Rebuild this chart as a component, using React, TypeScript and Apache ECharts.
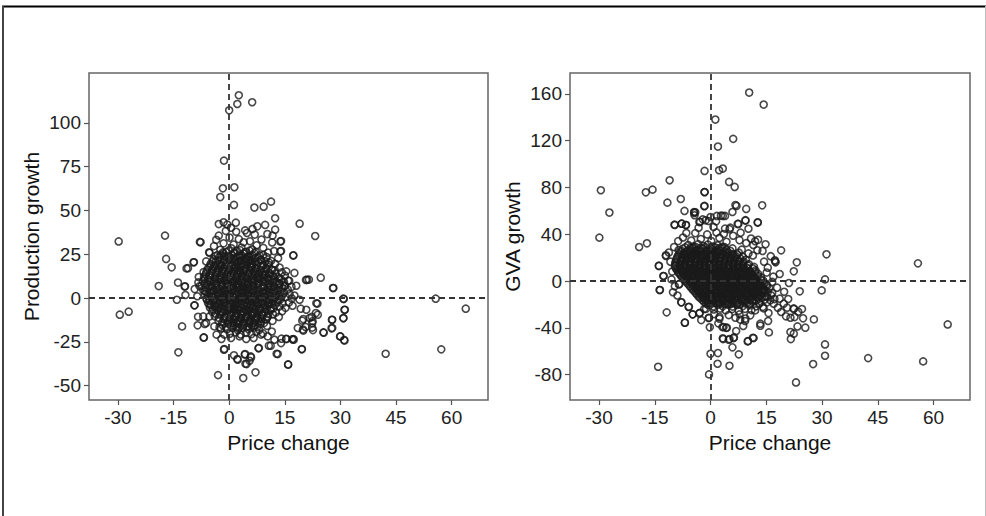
import React, { useEffect, useRef } from "react";
import * as echarts from "echarts";

const xTicks = [-30, -15, 0, 15, 30, 45, 60];
const prodTicks = [-50, -25, 0, 25, 50, 75, 100];
const gvaTicks = [-80, -40, 0, 40, 80, 120, 160];

const xName = "Price change";
const prodName = "Production growth";
const gvaName = "GVA growth";

// Left panel: price change vs production growth
const prodOutliers = [
  [2.6, 115.7], [2.2, 110.7], [6.2, 111.7], [0, 107.1], [-1.4, 78.4], [-1.7, 62.6], [1.4, 63.2], [-2.4, 57.6],
  [1.3, 53.1], [6.8, 51.6], [9.3, 52.1], [11.3, 55.0], [12.4, 45.5], [19.0, 42.4], [23.2, 35.4], [-17.3, 35.6],
  [-29.8, 32.3], [-7.9, 32.0], [-17.0, 22.3], [-15.5, 17.5], [-11.5, 16.9], [-11.1, 17.0], [-9.6, 20.4], [-19.0, 6.8],
  [-13.8, 8.8], [-12.0, 6.5], [-11.8, 1.7], [-14.1, -1.0], [-29.5, -9.5], [-27.1, -7.8], [-12.7, -16.2], [-13.7, -31.0],
  [-9.4, -4.2], [-8.5, -15.6], [-6.9, -22.6], [-6.6, -14.8], [-3.0, -44.0], [-1.3, -29.1], [3.8, -45.7], [4.4, -37.5],
  [4.2, -32.3], [5.8, -33.3], [5.5, -35.8], [7.1, -42.4], [7.9, -28.7], [2.2, -34.8], [10.7, -27.2], [12.8, -31.8],
  [15.9, -37.9], [19.6, -29.1], [17.4, -23.8], [14.1, -23.2], [15.4, -23.3], [20.7, 10.3], [24.7, 11.6], [28.0, 5.7],
  [17.3, 24.2], [13.8, 32.3], [14.0, 26.8], [30.8, -0.4], [31.2, -6.7], [30.8, -11.6], [27.8, -12.4], [27.6, -17.3],
  [29.9, -21.9], [31.0, -24.0], [25.5, -19.8], [22.3, -10.8], [22.5, -13.2], [20.0, -12.0], [22.4, -16.9], [19.9, -18.0],
  [20.6, -16.5], [23.5, -3.0], [23.9, -9.5], [19.3, -6.1], [42.2, -31.8], [55.7, -0.4], [57.2, -29.3], [63.8, -6.1],
];

const prodPeriph = [
  [-2.8, 42.2], [-1.5, 43.2], [-0.5, 41.9], [0.5, 40.1], [1.8, 43.0], [4.3, 38.6], [6.3, 39.4], [7.6, 40.9],
  [9.7, 41.7], [12.4, 39.0], [11.7, 35.6], [14.0, 32.5], [13.8, 26.6], [17.3, 24.4], [-7.7, 31.8], [-5.4, 26.1],
  [-6.2, 20.9], [-6.9, 14.8], [-9.5, 20.4], [-8.3, 8.9], [-9.3, 5.1], [-8.6, 1.0], [-9.3, -4.2], [-8.4, -10.7],
  [-7.0, -10.5], [-6.8, -22.5], [-2.6, -16.7], [-1.4, -29.5], [1.3, -32.7], [2.3, -35.2], [4.3, -32.0], [4.7, -37.7],
  [5.9, -33.9], [8.0, -28.5], [11.2, -27.2], [13.1, -32.0], [14.0, -25.7], [15.9, -38.0], [17.3, -23.4], [19.6, -29.3],
  [18.5, -17.1], [20.0, -18.6], [19.7, -12.9], [21.7, -11.4], [22.4, -14.3], [22.6, -18.3], [20.8, -6.7], [23.8, -3.2],
  [23.4, -8.6], [21.5, 10.5], [21.0, 10.4], [28.1, 5.7], [27.8, -17.1], [25.4, -19.6], [27.7, -12.4], [30.9, -0.6],
  [31.1, -6.7], [30.8, -11.4], [30.0, -21.9], [31.1, -24.2], [18.1, 7.0], [19.0, -1.0], [17.6, 14.3], [15.4, 15.2],
  [15.9, 9.9], [2.8, -21.9], [4.6, -23.4], [6.6, -22.8], [8.6, -20.9], [10.4, -21.9], [12.2, -23.8], [15.4, -23.4],
  [17.0, -23.6], [0.5, -22.8], [-2.1, -23.4], [-11.9, 6.7], [-6.6, 3.8], [-6.0, -1.0], [-8.0, 6.7], [-8.2, 12.0],
  [-5.3, -3.8], [-5.3, -10.5], [-6.2, -14.3], [-4.0, -16.2], [-3.4, -20.9],
];

const prodCore = [
  [-2.4, 27.5], [-0.8, 26.2], [0.6, 28.4], [2.1, 26.9], [3.3, 28.8], [4.6, 26.4], [6.2, 27.7], [1.2, 30.5],
  [3.9, 31.8], [-1.5, 31.2], [5.6, 32.4], [7.4, 30.1], [2.6, 33.6], [0.1, 34.5], [-2.8, 35.6], [6.9, 36.2],
  [8.7, 33.4], [4.8, 37.1], [1.9, 37.8], [-0.9, 38.3], [10.3, 36.5], [11.6, 31.7], [9.2, 28.6], [-4.1, 29.6], [-3.5, 33.2],
  [-3.1, 24.6], [-1.6, 25.4], [-0.2, 24.1], [1.2, 25.7], [2.7, 24.3], [4.1, 25.2], [5.3, 23.8], [6.8, 25.6],
  [8.2, 24.4], [10.5, 25.9], [12.1, 26.8], [-5.3, 25.8],
  [-4.2, 22.1], [-2.7, 23.3], [-1.3, 21.8], [0.3, 22.9], [1.6, 21.6], [3.0, 23.1], [4.4, 22.2], [5.9, 21.3],
  [7.1, 22.8], [8.6, 21.9], [10.1, 23.4], [11.3, 21.2], [13.2, 22.7],
  [-5.0, 19.6], [-3.6, 20.8], [-2.1, 19.2], [-0.7, 20.4], [0.8, 19.1], [2.3, 20.6], [3.6, 19.4], [5.1, 20.9],
  [6.4, 19.3], [7.8, 20.5], [9.3, 19.0], [10.7, 20.3], [12.4, 19.5],
  [-5.6, 17.2], [-4.1, 18.1], [-2.8, 16.8], [-1.2, 17.9], [0.1, 16.6], [1.5, 18.0], [2.9, 17.1], [4.3, 16.4],
  [5.7, 17.8], [7.2, 16.9], [8.5, 18.2], [9.9, 17.0], [11.4, 16.3], [13.6, 17.4],
  [-6.2, 14.6], [-4.6, 15.5], [-3.3, 14.2], [-1.9, 15.6], [-0.4, 14.4], [1.0, 15.3], [2.4, 14.1], [3.8, 15.7],
  [5.2, 14.5], [6.6, 15.4], [8.0, 14.0], [9.4, 15.2], [10.8, 14.3], [12.3, 15.8], [14.2, 14.6],
  [-6.8, 12.1], [-5.3, 13.0], [-3.9, 11.8], [-2.4, 12.9], [-1.0, 12.2], [0.5, 13.1], [1.9, 11.9], [3.3, 12.7],
  [4.7, 11.6], [6.1, 12.8], [7.5, 12.0], [8.9, 13.2], [10.3, 11.7], [11.8, 12.6], [13.2, 11.9], [15.0, 12.8],
  [-7.1, 9.6], [-5.7, 10.5], [-4.3, 9.3], [-2.9, 10.6], [-1.4, 9.8], [0, 10.7], [1.4, 9.4], [2.8, 10.3],
  [4.2, 9.1], [5.6, 10.4], [7.0, 9.7], [8.4, 10.8], [9.8, 9.5], [11.2, 10.2], [12.7, 9.3], [14.1, 10.5], [16.2, 9.8],
  [-7.4, 7.1], [-6.0, 8.0], [-4.6, 6.8], [-3.2, 7.9], [-1.8, 7.2], [-0.4, 8.1], [1.0, 6.9], [2.4, 7.7],
  [3.8, 6.6], [5.2, 7.8], [6.6, 7.0], [8.0, 8.2], [9.4, 6.8], [10.8, 7.6], [12.2, 6.7], [13.6, 7.9], [15.0, 7.2], [16.8, 6.4],
  [-7.0, 4.6], [-5.6, 5.5], [-4.1, 4.3], [-2.7, 5.4], [-1.3, 4.7], [0.2, 5.6], [1.6, 4.4], [3.0, 5.2],
  [4.4, 4.1], [5.8, 5.3], [7.2, 4.5], [8.6, 5.7], [10.0, 4.2], [11.4, 5.1], [12.9, 4.4], [14.4, 5.6], [15.8, 4.8],
  [-6.6, 2.1], [-5.1, 3.0], [-3.7, 1.8], [-2.2, 2.9], [-0.8, 2.2], [0.6, 3.1], [2.0, 1.9], [3.4, 2.7],
  [4.8, 1.6], [6.2, 2.8], [7.6, 2.0], [9.0, 3.2], [10.4, 1.7], [11.9, 2.6], [13.3, 1.9], [14.8, 3.0], [16.3, 2.2], [17.6, 1.4],
  [-6.1, -0.4], [-4.7, 0.5], [-3.2, -0.7], [-1.8, 0.4], [-0.3, -0.3], [1.1, 0.6], [2.5, -0.6], [3.9, 0.2],
  [5.3, -0.9], [6.7, 0.3], [8.1, -0.5], [9.5, 0.7], [11.0, -0.8], [12.4, 0.1], [13.9, -0.6], [15.3, 0.5], [16.9, -0.3],
  [-5.7, -2.9], [-4.2, -2.0], [-2.8, -3.2], [-1.3, -2.1], [0.2, -2.8], [1.6, -1.9], [3.0, -3.1], [4.4, -2.3],
  [5.8, -3.4], [7.2, -2.2], [8.6, -3.0], [10.1, -1.8], [11.5, -3.3], [13.0, -2.4], [14.4, -3.1], [16.1, -2.6],
  [-5.2, -5.4], [-3.7, -4.5], [-2.3, -5.7], [-0.8, -4.6], [0.6, -5.3], [2.0, -4.4], [3.4, -5.6], [4.8, -4.8],
  [6.2, -5.9], [7.6, -4.7], [9.1, -5.5], [10.5, -4.3], [12.0, -5.8], [13.5, -4.9], [15.2, -5.6], [17.1, -4.4],
  [-4.6, -7.9], [-3.1, -7.0], [-1.7, -8.2], [-0.3, -7.1], [1.2, -7.8], [2.6, -6.9], [4.0, -8.1], [5.4, -7.3],
  [6.8, -8.4], [8.2, -7.2], [9.7, -8.0], [11.1, -6.8], [12.6, -8.3], [14.3, -7.5],
  [-3.9, -10.4], [-2.4, -9.5], [-1.0, -10.7], [0.5, -9.6], [1.9, -10.3], [3.3, -9.4], [4.7, -10.6], [6.1, -9.8],
  [7.5, -10.9], [9.0, -9.7], [10.4, -10.5], [11.8, -9.3], [13.4, -10.8],
  [-2.9, -12.9], [-1.4, -12.0], [0.1, -13.2], [1.5, -12.1], [2.9, -12.8], [4.3, -11.9], [5.7, -13.1], [7.2, -12.3],
  [8.6, -13.4], [10.0, -12.2], [11.7, -13.0],
  [-1.8, -15.4], [-0.3, -14.5], [1.2, -15.7], [2.6, -14.6], [4.0, -15.3], [5.5, -14.4], [6.9, -15.6], [8.4, -14.8], [10.2, -15.9],
  [-0.6, -17.9], [0.9, -17.0], [2.3, -18.2], [3.7, -17.1], [5.2, -17.8], [6.6, -16.9], [8.1, -18.3], [-2.2, -17.4],
  [0.2, -20.4], [1.8, -19.6], [3.1, -20.8], [4.6, -19.9], [6.0, -20.6], [7.3, -19.3], [9.1, -20.2], [11.5, -19.1], [-1.3, -20.9],
  [0.9, 8.8], [2.1, 12.3], [3.5, 4.7], [1.7, -3.6], [4.6, -7.1], [2.3, 15.8], [5.0, 1.3], [0.3, -6.2],
  [3.1, -11.4], [6.3, 9.9], [-0.9, 3.8], [1.9, -8.8], [4.1, 18.6], [-1.6, -0.9], [2.7, 6.1], [5.6, -1.7],
  [3.2, 21.4], [0.6, -14.2], [7.9, -2.7], [-2.3, 11.1],
];

const prodDense = [
  [-1.7, 26.0], [-0.1, 27.1], [1.5, 25.9], [2.9, 27.3], [4.2, 26.1], [5.5, 27.0], [7.2, 26.3],
  [-3.7, 23.9], [-2.2, 24.3], [-0.9, 23.5], [0.8, 24.4], [2.1, 23.2], [3.5, 24.1], [4.9, 23.4], [6.3, 24.3], [7.8, 23.3], [9.2, 24.6],
  [-4.4, 21.0], [-2.9, 21.6], [-1.5, 20.8], [0.1, 21.7], [1.4, 20.6], [2.8, 21.4], [4.2, 20.9], [5.6, 21.8], [7.0, 20.7], [8.4, 21.5], [9.8, 20.9],
  [-5.1, 18.4], [-3.5, 19.1], [-2.2, 18.2], [-0.8, 19.0], [0.6, 18.3], [2.1, 19.2], [3.3, 18.1], [4.8, 18.9], [6.1, 18.3], [7.6, 19.0], [9.0, 18.4], [10.5, 19.1],
  [-5.9, 16.0], [-4.4, 16.6], [-2.9, 15.8], [-1.5, 16.7], [0.0, 15.9], [1.4, 16.8], [2.9, 15.7], [4.3, 16.5], [5.8, 15.9], [7.1, 16.6], [8.6, 15.8], [10.1, 16.4], [11.6, 15.9],
  [-6.3, 13.5], [-4.8, 14.1], [-3.4, 13.2], [-1.9, 14.0], [-0.5, 13.4], [1.0, 14.2], [2.4, 13.3], [3.8, 14.0], [5.2, 13.5], [6.7, 14.3], [8.1, 13.3], [9.6, 14.0], [11.0, 13.4], [12.5, 14.0],
  [-6.7, 11.0], [-5.2, 11.6], [-3.7, 10.8], [-2.3, 11.7], [-0.8, 10.9], [0.6, 11.6], [2.1, 10.8], [3.5, 11.5], [4.9, 10.7], [6.4, 11.4], [7.8, 10.9], [9.2, 11.7], [10.6, 10.8], [12.1, 11.5], [13.6, 11.0],
  [-6.6, 8.4], [-5.1, 9.1], [-3.7, 8.3], [-2.2, 9.1], [-0.8, 8.4], [0.6, 9.2], [2.0, 8.2], [3.5, 9.0], [4.9, 8.3], [6.3, 9.1], [7.7, 8.4], [9.1, 9.2], [10.5, 8.3], [11.9, 9.0], [13.4, 8.5], [14.8, 9.1],
  [-6.4, 6.0], [-4.9, 6.6], [-3.5, 5.8], [-2.0, 6.7], [-0.6, 5.9], [0.8, 6.6], [2.2, 5.8], [3.6, 6.5], [5.0, 5.9], [6.4, 6.8], [7.8, 5.8], [9.2, 6.6], [10.6, 5.9], [12.0, 6.5], [13.5, 5.8], [14.9, 6.6],
  [-6.2, 3.5], [-4.7, 4.0], [-3.2, 3.3], [-1.8, 4.1], [-0.4, 3.4], [1.0, 4.2], [2.4, 3.3], [3.8, 4.0], [5.2, 3.2], [6.6, 4.1], [8.0, 3.4], [9.4, 4.0], [10.8, 3.3], [12.3, 4.1], [13.8, 3.5],
  [-5.8, 1.0], [-4.3, 1.6], [-2.9, 0.8], [-1.4, 1.7], [0.0, 0.9], [1.4, 1.6], [2.8, 0.8], [4.2, 1.5], [5.6, 0.7], [7.0, 1.6], [8.4, 0.9], [9.8, 1.7], [11.2, 0.8], [12.7, 1.5], [14.2, 1.0],
  [-5.3, -1.4], [-3.9, -0.9], [-2.4, -1.7], [-1.0, -0.8], [0.5, -1.5], [1.9, -0.8], [3.3, -1.6], [4.7, -1.0], [6.1, -1.8], [7.5, -0.9], [8.9, -1.6], [10.3, -1.0], [11.8, -1.7], [13.3, -1.1],
  [-4.9, -3.9], [-3.4, -3.4], [-2.0, -4.2], [-0.5, -3.3], [0.9, -4.0], [2.3, -3.2], [3.7, -4.1], [5.1, -3.4], [6.5, -4.2], [7.9, -3.5], [9.4, -4.0], [10.8, -3.3], [12.3, -4.1],
  [-4.4, -6.4], [-2.9, -5.9], [-1.5, -6.7], [-0.1, -5.8], [1.3, -6.5], [2.7, -5.8], [4.1, -6.6], [5.5, -5.9], [6.9, -6.7], [8.3, -5.8], [9.8, -6.5], [11.3, -6.0],
  [-3.7, -8.9], [-2.2, -8.4], [-0.8, -9.2], [0.6, -8.3], [2.0, -9.0], [3.4, -8.3], [4.8, -9.1], [6.2, -8.5], [7.6, -9.3], [9.0, -8.5], [10.5, -9.1],
  [-2.8, -11.4], [-1.3, -10.9], [0.2, -11.7], [1.6, -10.8], [3.0, -11.5], [4.4, -10.8], [5.8, -11.6], [7.2, -11.0], [8.7, -11.8], [10.2, -11.1],
  [-1.9, -13.9], [-0.4, -13.4], [1.0, -14.2], [2.4, -13.3], [3.8, -14.0], [5.2, -13.3], [6.6, -14.1], [8.0, -13.6], [9.4, -14.3],
  [-0.9, -16.4], [0.5, -15.9], [1.9, -16.7], [3.3, -15.8], [4.7, -16.5], [6.1, -15.9], [7.6, -16.6],
];

const prodCentre = [
  [-2.6, 18.9], [-1.1, 15.2], [0.4, 12.6], [1.8, 17.3], [3.1, 14.9], [4.5, 12.3], [5.9, 17.1], [7.3, 13.8],
  [-2.0, 7.6], [-0.6, 10.1], [0.9, 5.3], [2.3, 9.6], [3.7, 2.9], [5.1, 9.2], [6.5, 4.6], [7.9, 11.5],
  [-2.9, 2.2], [-1.4, -2.6], [0.1, 1.9], [1.5, -5.9], [2.9, -1.2], [4.3, 5.9], [5.7, -4.2], [7.1, -0.8],
  [8.5, -6.3], [-2.2, -7.4], [-0.7, -11.1], [0.8, -3.3], [2.2, -13.6], [3.6, -7.7], [5.0, -11.2], [6.4, -8.9],
  [7.8, -12.1], [9.2, 2.5], [10.6, -2.4], [-3.6, 14.7], [-4.2, 4.2], [-3.9, -5.1], [9.7, 13.1], [8.8, -9.6],
  [1.1, 22.8], [4.8, 22.1], [-1.2, 23.9], [2.5, -17.1], [5.3, -16.2], [11.3, 6.3], [-5.1, 9.7], [6.0, 19.6],
  [3.3, 0.4], [0.3, -8.5],
];

// Right panel: price change vs GVA growth
const gvaOutliers = [
  [10.4, 161.1], [14.3, 150.8], [1.3, 138.0], [2.0, 114.9], [6.1, 121.5], [-1.6, 94.1], [2.3, 94.7], [3.3, 96.1],
  [5.0, 84.7], [6.5, 80.4], [-11.0, 86.1], [-29.5, 77.6], [-17.4, 75.8], [-15.6, 78.1], [-27.2, 58.5], [-29.9, 37.1],
  [-19.2, 29.1], [-17.1, 32.2], [-11.6, 67.0], [-8.0, 70.1], [-1.6, 76.1], [-1.7, 63.9], [-7.0, 59.9], [-4.4, 59.0],
  [-4.3, 56.2], [6.7, 65.0], [7.0, 64.2], [9.6, 61.6], [13.9, 64.7], [12.7, 49.9], [9.4, 51.6], [-9.6, 47.9],
  [-7.8, 49.0], [-6.6, 47.9], [-2.8, 50.5], [-1.3, 51.9], [0, 54.7], [2.8, 55.9], [3.9, 55.6], [5.9, 59.0],
  [7.3, 48.8], [19.0, 26.2], [17.3, 17.7], [17.5, 16.0], [23.2, 16.0], [22.4, 8.3], [31.2, 22.8], [30.8, 1.4],
  [29.9, -8.0], [21.1, -1.7], [24.0, -8.8], [55.8, 15.1], [63.8, -37.1], [57.2, -68.7], [42.4, -65.9], [27.6, -71.0],
  [30.8, -63.9], [30.8, -54.2], [23.0, -86.7], [27.8, -32.8], [24.6, -24.0], [25.5, -39.9], [23.4, -38.8], [22.4, -45.0],
  [21.6, -49.6], [22.4, -24.0], [15.7, -43.9], [15.5, -34.2], [13.4, -38.2], [11.6, -48.8], [10.0, -51.6], [7.6, -62.7],
  [5.1, -72.4], [1.9, -70.7], [2.0, -61.6], [0, -62.2], [-0.4, -79.8], [3.4, -49.6], [4.9, -50.2], [6.3, -48.2],
  [5.9, -56.7], [-14.1, -73.3], [-11.8, -26.8], [-6.9, -35.6], [-7.9, -18.2], [-5.8, -22.0], [-4.8, -28.5], [-3.0, -27.7],
  [-13.6, -7.7], [-12.7, 4.3], [-13.9, 12.8], [-12.0, 21.4], [-8.5, -2.9], [-0.2, -39.6], [3.2, -39.4], [4.2, -40.0],
  [2.4, -32.2], [-0.5, -31.7], [9.3, -34.2], [7.8, -28.5],
];

const gvaPeriph = [
  [-9.7, 48.2], [-7.7, 49.0], [-6.6, 47.9], [-4.4, 58.2], [-3.0, 50.5], [-2.1, 52.7], [-0.5, 51.3], [1.7, 55.6],
  [3.3, 55.6], [1.5, 51.0], [3.9, 44.8], [5.3, 45.6], [7.5, 48.8], [9.4, 52.0], [12.7, 50.2], [10.9, 36.3],
  [12.0, 34.0], [12.6, 26.3], [14.0, 25.7], [14.4, 16.5], [15.4, 11.4], [15.1, 7.2], [17.4, 16.8], [16.6, -0.8],
  [17.9, -5.7], [18.6, -15.1], [19.7, -19.4], [20.6, -22.8], [22.4, -23.4], [22.6, -30.8], [13.4, -36.5], [11.4, -48.5],
  [10.1, -51.3], [21.5, -43.6], [-13.9, 13.1], [-12.6, 4.3], [-13.7, -7.7], [-12.0, 22.0], [-8.4, -2.5], [-7.8, -18.2],
  [-5.9, -22.2], [-4.8, -28.5], [-2.9, -27.1], [-1.7, -24.0], [-6.9, -35.6], [-0.4, -31.4], [2.4, -30.8], [3.5, -39.3],
  [4.4, -39.9], [5.1, -49.6], [6.2, -48.8], [3.3, -49.0], [-4.1, 58.8], [-1.6, 64.2], [-1.6, 75.9], [13.4, -2.3],
  [14.3, -8.0], [15.2, -13.7], [16.1, -16.5], [17.0, -19.4], [18.1, -22.8], [19.0, -26.5], [20.3, -30.2], [21.5, -31.4],
  [13.1, -19.4], [14.3, -23.4], [15.6, -27.4], [12.0, -25.1], [10.7, -29.3], [9.4, -32.1], [8.0, -33.0], [6.7, -31.4],
  [-10.3, 8.1], [-10.8, 16.5], [-11.2, 24.4], [-9.8, 29.0], [-10.5, 1.4], [-9.6, -4.5], [-8.7, 34.1], [-6.5, 41.0],
  [-3.2, 45.6], [0.8, 46.2], [8.1, 41.3], [10.2, 44.7], [16.2, 21.2], [18.6, 6.0], [16.9, 3.7], [14.8, 31.4],
  [2.1, -36.2], [-2.5, -33.4], [1.0, -28.3], [4.9, -29.1], [8.8, -38.4], [6.9, -42.7], [-8.9, -12.4], [-10.1, -9.6],
  [19.8, -9.2], [20.9, -15.4], [23.6, -26.3], [24.9, -31.9],
];

const gvaCore = [
  [-6.0, 30.8], [-4.6, 29.4], [-3.3, 31.5], [-2.0, 29.9], [-0.7, 31.2], [0.6, 29.5], [1.9, 30.6], [3.2, 29.2],
  [-5.2, 34.6], [-2.6, 35.9], [0.2, 34.2], [2.4, 36.8], [4.3, 33.5], [-7.4, 37.2], [-0.9, 39.8], [1.6, 41.5],
  [3.6, 40.2], [6.1, 38.7], [-4.1, 40.9], [5.1, 44.3], [7.8, 34.9], [9.6, 32.4], [11.5, 30.8], [12.8, 35.2],
  [-7.5, 27.6], [-6.1, 26.2], [-4.8, 28.1], [-3.5, 26.5], [-2.2, 27.8], [-0.9, 26.1], [0.4, 27.4], [1.7, 26.3],
  [3.0, 28.0], [4.3, 26.6], [5.9, 27.9], [8.4, 26.8], [-8.6, 26.4],
  [-8.2, 24.5], [-6.9, 23.2], [-5.6, 24.8], [-4.3, 23.5], [-3.0, 24.9], [-1.7, 23.1], [-0.4, 24.6], [0.9, 23.3],
  [2.2, 24.7], [3.5, 23.4], [4.8, 24.3], [6.1, 23.0], [7.6, 24.4], [10.2, 23.6],
  [-8.8, 21.4], [-7.5, 20.2], [-6.2, 21.7], [-4.9, 20.5], [-3.6, 21.8], [-2.3, 20.1], [-1.0, 21.5], [0.3, 20.3],
  [1.6, 21.6], [2.9, 20.4], [4.2, 21.3], [5.5, 20.0], [6.8, 21.2], [8.7, 20.6], [11.4, 21.8],
  [-9.2, 18.5], [-7.9, 17.3], [-6.6, 18.6], [-5.3, 17.1], [-4.0, 18.8], [-2.7, 17.4], [-1.4, 18.7], [-0.1, 17.2],
  [1.2, 18.4], [2.5, 17.0], [3.8, 18.6], [5.1, 17.5], [6.4, 18.3], [7.7, 17.1], [9.5, 18.2],
  [-9.5, 15.4], [-8.2, 14.2], [-6.9, 15.7], [-5.6, 14.5], [-4.3, 15.8], [-3.0, 14.1], [-1.7, 15.5], [-0.4, 14.3],
  [0.9, 15.6], [2.2, 14.4], [3.5, 15.3], [4.8, 14.0], [6.1, 15.2], [7.4, 14.6], [8.7, 15.5], [10.3, 14.3],
  [-9.6, 12.5], [-8.3, 11.2], [-7.0, 12.6], [-5.7, 11.4], [-4.4, 12.8], [-3.1, 11.1], [-1.8, 12.4], [-0.5, 11.3],
  [0.8, 12.7], [2.1, 11.5], [3.4, 12.3], [4.7, 11.0], [6.0, 12.2], [7.3, 11.6], [8.6, 12.5], [9.9, 11.2], [11.7, 12.1],
  [-9.0, 9.4], [-7.7, 8.2], [-6.4, 9.6], [-5.1, 8.4], [-3.8, 9.8], [-2.5, 8.1], [-1.2, 9.5], [0.1, 8.3],
  [1.4, 9.7], [2.7, 8.5], [4.0, 9.3], [5.3, 8.0], [6.6, 9.2], [7.9, 8.6], [9.2, 9.5], [10.5, 8.2], [12.1, 9.1],
  [-8.4, 6.4], [-7.1, 5.2], [-5.8, 6.6], [-4.5, 5.4], [-3.2, 6.8], [-1.9, 5.1], [-0.6, 6.5], [0.7, 5.3],
  [2.0, 6.7], [3.3, 5.5], [4.6, 6.3], [5.9, 5.0], [7.2, 6.2], [8.5, 5.6], [9.8, 6.5], [11.1, 5.2], [12.8, 6.1],
  [-7.6, 3.4], [-6.3, 2.2], [-5.0, 3.6], [-3.7, 2.4], [-2.4, 3.8], [-1.1, 2.1], [0.2, 3.5], [1.5, 2.3],
  [2.8, 3.7], [4.1, 2.5], [5.4, 3.3], [6.7, 2.0], [8.0, 3.2], [9.3, 2.6], [10.6, 3.5], [11.9, 2.2], [13.6, 3.1],
  [-6.8, 0.4], [-5.5, -0.8], [-4.2, 0.6], [-2.9, -0.6], [-1.6, 0.8], [-0.3, -0.9], [1.0, 0.5], [2.3, -0.7],
  [3.6, 0.7], [4.9, -0.5], [6.2, 0.3], [7.5, -1.0], [8.8, 0.2], [10.1, -0.4], [11.4, 0.5], [12.7, -0.8], [14.2, 0.3],
  [-6.0, -2.6], [-4.7, -3.8], [-3.4, -2.4], [-2.1, -3.6], [-0.8, -2.2], [0.5, -3.9], [1.8, -2.5], [3.1, -3.7],
  [4.4, -2.3], [5.7, -3.5], [7.0, -2.7], [8.3, -4.0], [9.6, -2.8], [10.9, -3.4], [12.2, -2.5], [13.5, -3.8], [15.1, -2.9],
  [-5.2, -5.6], [-3.9, -6.8], [-2.6, -5.4], [-1.3, -6.6], [0, -5.2], [1.3, -6.9], [2.6, -5.5], [3.9, -6.7],
  [5.2, -5.3], [6.5, -6.5], [7.8, -5.7], [9.1, -7.0], [10.4, -5.8], [11.7, -6.4], [13.0, -5.5], [14.3, -6.8], [15.8, -6.1],
  [-4.4, -8.6], [-3.1, -9.8], [-1.8, -8.4], [-0.5, -9.6], [0.8, -8.2], [2.1, -9.9], [3.4, -8.5], [4.7, -9.7],
  [6.0, -8.3], [7.3, -9.5], [8.6, -8.7], [9.9, -10.0], [11.2, -8.8], [12.5, -9.4], [13.8, -8.5], [15.4, -9.6], [16.6, -10.2],
  [-3.6, -11.6], [-2.3, -12.8], [-1.0, -11.4], [0.3, -12.6], [1.6, -11.2], [2.9, -12.9], [4.2, -11.5], [5.5, -12.7],
  [6.8, -11.3], [8.1, -12.5], [9.4, -11.7], [10.7, -13.0], [12.0, -11.8], [13.3, -12.4], [14.8, -13.1], [16.3, -12.2],
  [-2.8, -14.6], [-1.5, -15.8], [-0.2, -14.4], [1.1, -15.6], [2.4, -14.2], [3.7, -15.9], [5.0, -14.5], [6.3, -15.7],
  [7.6, -14.3], [8.9, -15.5], [10.2, -14.7], [11.5, -16.0], [13.0, -15.2], [14.6, -15.9], [17.2, -15.4],
  [-1.8, -17.6], [-0.5, -18.8], [0.8, -17.4], [2.1, -18.6], [3.4, -17.2], [4.7, -18.9], [6.0, -17.5], [7.3, -18.7],
  [8.6, -17.3], [9.9, -18.5], [11.4, -17.8], [13.1, -18.9], [15.2, -18.2],
  [-0.6, -20.6], [0.7, -21.8], [2.0, -20.4], [3.3, -21.6], [4.6, -20.2], [5.9, -21.9], [7.2, -20.5], [8.7, -21.4],
  [10.4, -20.8], [12.3, -21.6], [14.1, -22.1],
  [0.9, -24.3], [2.6, -23.6], [4.1, -25.1], [5.8, -24.0], [7.6, -25.4], [9.3, -23.8], [11.0, -24.9], [-1.2, -23.8],
  [-1.1, 4.6], [0.6, 10.4], [1.9, -1.8], [-2.8, 13.6], [3.2, 7.1], [-4.6, 10.8], [2.8, -10.7], [5.4, -7.8],
  [-0.2, 19.6], [4.1, 1.4], [-3.1, -1.4], [6.7, -13.6], [1.4, 16.1], [-5.9, 19.4], [7.1, 4.2], [0.3, -16.6],
];

const gvaDense = [
  [-6.8, 28.7], [-5.4, 28.2], [-4.0, 29.0], [-2.7, 28.3], [-1.4, 28.9], [-0.1, 28.1], [1.2, 28.8], [2.5, 28.3], [3.8, 28.9],
  [-7.8, 25.7], [-6.5, 25.1], [-5.2, 26.0], [-3.9, 25.3], [-2.6, 25.9], [-1.3, 25.1], [0.0, 25.8], [1.3, 25.2], [2.6, 25.9], [3.9, 25.3], [5.3, 25.8],
  [-8.5, 22.7], [-7.2, 22.1], [-5.9, 23.0], [-4.6, 22.3], [-3.3, 22.9], [-2.0, 22.1], [-0.7, 22.8], [0.6, 22.2], [1.9, 22.9], [3.2, 22.3], [4.5, 22.8], [5.8, 22.1], [7.2, 22.7],
  [-9.0, 19.7], [-7.7, 19.1], [-6.4, 20.0], [-5.1, 19.3], [-3.8, 19.9], [-2.5, 19.1], [-1.2, 19.8], [0.1, 19.2], [1.4, 19.9], [2.7, 19.3], [4.0, 19.8], [5.3, 19.1], [6.6, 19.7], [8.0, 19.2],
  [-9.3, 16.7], [-8.0, 16.1], [-6.7, 17.0], [-5.4, 16.3], [-4.1, 16.9], [-2.8, 16.1], [-1.5, 16.8], [-0.2, 16.2], [1.1, 16.9], [2.4, 16.3], [3.7, 16.8], [5.0, 16.1], [6.3, 16.7], [7.6, 16.2], [8.9, 16.8],
  [-9.5, 13.7], [-8.2, 13.1], [-6.9, 14.0], [-5.6, 13.3], [-4.3, 13.9], [-3.0, 13.1], [-1.7, 13.8], [-0.4, 13.2], [0.9, 13.9], [2.2, 13.3], [3.5, 13.8], [4.8, 13.1], [6.1, 13.7], [7.4, 13.2], [8.7, 13.8], [10.0, 13.3],
  [-9.3, 10.7], [-8.0, 10.1], [-6.7, 11.0], [-5.4, 10.3], [-4.1, 10.9], [-2.8, 10.1], [-1.5, 10.8], [-0.2, 10.2], [1.1, 10.9], [2.4, 10.3], [3.7, 10.8], [5.0, 10.1], [6.3, 10.7], [7.6, 10.2], [8.9, 10.8], [10.2, 10.3], [11.4, 10.8],
  [-8.7, 7.7], [-7.4, 7.1], [-6.1, 8.0], [-4.8, 7.3], [-3.5, 7.9], [-2.2, 7.1], [-0.9, 7.8], [0.4, 7.2], [1.7, 7.9], [3.0, 7.3], [4.3, 7.8], [5.6, 7.1], [6.9, 7.7], [8.2, 7.2], [9.5, 7.8], [10.8, 7.3], [12.0, 7.7],
  [-8.0, 4.7], [-6.7, 4.1], [-5.4, 5.0], [-4.1, 4.3], [-2.8, 4.9], [-1.5, 4.1], [-0.2, 4.8], [1.1, 4.2], [2.4, 4.9], [3.7, 4.3], [5.0, 4.8], [6.3, 4.1], [7.6, 4.7], [8.9, 4.2], [10.2, 4.8], [11.5, 4.3], [12.7, 4.6],
  [-7.2, 1.7], [-5.9, 1.1], [-4.6, 2.0], [-3.3, 1.3], [-2.0, 1.9], [-0.7, 1.1], [0.6, 1.8], [1.9, 1.2], [3.2, 1.9], [4.5, 1.3], [5.8, 1.8], [7.1, 1.1], [8.4, 1.7], [9.7, 1.2], [11.0, 1.8], [12.3, 1.3], [13.5, 1.6],
  [-6.4, -1.3], [-5.1, -1.9], [-3.8, -1.0], [-2.5, -1.7], [-1.2, -1.1], [0.1, -1.9], [1.4, -1.2], [2.7, -1.8], [4.0, -1.1], [5.3, -1.7], [6.6, -1.2], [7.9, -1.9], [9.2, -1.3], [10.5, -1.8], [11.8, -1.2], [13.1, -1.7], [14.4, -1.4],
  [-5.6, -4.3], [-4.3, -4.9], [-3.0, -4.0], [-1.7, -4.7], [-0.4, -4.1], [0.9, -4.9], [2.2, -4.2], [3.5, -4.8], [4.8, -4.1], [6.1, -4.7], [7.4, -4.2], [8.7, -4.9], [10.0, -4.3], [11.3, -4.8], [12.6, -4.2], [13.9, -4.7], [15.2, -4.4],
  [-4.8, -7.3], [-3.5, -7.9], [-2.2, -7.0], [-0.9, -7.7], [0.4, -7.1], [1.7, -7.9], [3.0, -7.2], [4.3, -7.8], [5.6, -7.1], [6.9, -7.7], [8.2, -7.2], [9.5, -7.9], [10.8, -7.3], [12.1, -7.8], [13.4, -7.2], [14.7, -7.7],
  [-4.0, -10.3], [-2.7, -10.9], [-1.4, -10.0], [-0.1, -10.7], [1.2, -10.1], [2.5, -10.9], [3.8, -10.2], [5.1, -10.8], [6.4, -10.1], [7.7, -10.7], [9.0, -10.2], [10.3, -10.9], [11.6, -10.3], [12.9, -10.8], [14.2, -10.2],
  [-3.2, -13.3], [-1.9, -13.9], [-0.6, -13.0], [0.7, -13.7], [2.0, -13.1], [3.3, -13.9], [4.6, -13.2], [5.9, -13.8], [7.2, -13.1], [8.5, -13.7], [9.8, -13.2], [11.1, -13.9], [12.4, -13.3], [13.8, -13.8],
  [-2.2, -16.3], [-0.9, -16.9], [0.4, -16.0], [1.7, -16.7], [3.0, -16.1], [4.3, -16.9], [5.6, -16.2], [6.9, -16.8], [8.2, -16.1], [9.5, -16.7], [10.8, -16.2], [12.2, -16.8],
  [-1.2, -19.3], [0.1, -19.9], [1.4, -19.0], [2.7, -19.7], [4.0, -19.1], [5.3, -19.9], [6.6, -19.2], [7.9, -19.8], [9.2, -19.1], [10.6, -19.6],
];

const gvaCentre = [
  [-5.3, 20.6], [-3.7, 17.9], [-2.1, 21.2], [-0.6, 15.8], [0.8, 19.6], [2.3, 13.7], [3.9, 17.2], [-6.8, 13.3],
  [-5.2, 10.1], [-3.5, 12.4], [-1.9, 7.7], [-0.3, 10.9], [1.3, 6.4], [2.9, 10.2], [4.4, 4.6], [6.0, 8.8],
  [-6.1, 4.3], [-4.5, -0.2], [-2.9, 2.8], [-1.3, -3.2], [0.3, 1.6], [1.9, -4.8], [3.5, -0.9], [5.1, -6.2],
  [6.7, -2.1], [8.3, 1.2], [-3.2, -8.7], [-1.6, -11.9], [0.0, -7.3], [1.6, -13.1], [3.2, -9.8], [4.8, -14.6],
  [6.4, -11.2], [8.0, -7.9], [9.6, -12.7], [11.2, -4.6], [-7.6, 16.9], [-8.1, 9.3], [-7.2, 23.8], [5.7, 15.6],
  [7.9, 12.3], [9.8, 3.9], [11.8, -9.1], [2.6, -18.4], [5.6, -19.3], [8.4, -16.5], [-4.0, 26.2], [0.6, 25.1],
  [-0.8, -16.4], [12.6, -14.2],
];

const FONT = "'Liberation Sans', Arial, Helvetica, sans-serif";

function xAxisCfg(gridIndex: number) {
  return {
    type: "value",
    gridIndex,
    min: -37.8,
    max: 69.8,
    name: xName,
    nameLocation: "middle",
    nameGap: 26,
    nameTextStyle: { fontSize: 21, color: "#111", fontFamily: FONT },
    axisLine: { show: false, onZero: false },
    axisTick: { show: true, length: 5, customValues: xTicks, lineStyle: { color: "#555", width: 1.2 } },
    axisLabel: { customValues: xTicks, fontSize: 19, color: "#222", margin: 8, fontFamily: FONT },
    splitLine: { show: false },
  };
}

function yAxisCfg(gridIndex: number, min: number, max: number, ticks: number[], name: string) {
  return {
    type: "value",
    gridIndex,
    min,
    max,
    name,
    nameLocation: "middle",
    nameGap: 47,
    nameTextStyle: { fontSize: 21, color: "#111", fontFamily: FONT },
    axisLine: { show: false, onZero: false },
    axisTick: { show: true, length: 5, customValues: ticks, lineStyle: { color: "#555", width: 1.2 } },
    axisLabel: { customValues: ticks, fontSize: 19, color: "#222", margin: 8, fontFamily: FONT },
    splitLine: { show: false },
  };
}

const zeroLines = {
  silent: true,
  symbol: ["none", "none"],
  label: { show: false },
  lineStyle: { type: [6, 4], color: "#333", width: 1.8 },
  data: [{ xAxis: 0 }, { yAxis: 0 }],
};

const pointStyle = { color: "rgba(0,0,0,0)", borderColor: "#1a1a1a", borderWidth: 1.6 };

export default function App() {
  const ref = useRef<HTMLDivElement>(null);
  useEffect(() => {
    const chart = echarts.init(ref.current!, null, { renderer: "svg" });
    chart.setOption({
      animation: false,
      backgroundColor: "#fff",
      grid: [
        { left: 89, right: 498, top: 73, bottom: 116, show: true, borderColor: "#666", borderWidth: 1.5 },
        { left: 570, right: 16, top: 73, bottom: 116, show: true, borderColor: "#666", borderWidth: 1.5 },
      ],
      xAxis: [xAxisCfg(0), xAxisCfg(1)],
      yAxis: [
        yAxisCfg(0, -58.2, 128.4, prodTicks, prodName),
        yAxisCfg(1, -101.7, 177.8, gvaTicks, gvaName),
      ],
      graphic: [
        { type: "line", shape: { x1: 2, y1: 6.5, x2: 986, y2: 6.5 }, style: { stroke: "#000", lineWidth: 2 } },
        { type: "line", shape: { x1: 3, y1: 6, x2: 3, y2: 516 }, style: { stroke: "#444", lineWidth: 2 } },
        { type: "line", shape: { x1: 985.5, y1: 6, x2: 985.5, y2: 516 }, style: { stroke: "#bbb", lineWidth: 1 } },
      ],
      series: [
        {
          type: "scatter",
          xAxisIndex: 0,
          yAxisIndex: 0,
          symbol: "circle",
          symbolSize: 7,
          itemStyle: pointStyle,
          data: [...prodOutliers, ...prodPeriph, ...prodCore, ...prodDense, ...prodCentre],
          markLine: zeroLines,
        },
        {
          type: "scatter",
          xAxisIndex: 1,
          yAxisIndex: 1,
          symbol: "circle",
          symbolSize: 7,
          itemStyle: pointStyle,
          data: [...gvaOutliers, ...gvaPeriph, ...gvaCore, ...gvaDense, ...gvaCentre],
          markLine: zeroLines,
        },
      ],
    });
    return () => chart.dispose();
  }, []);
  return (
    <div
      ref={ref}
      style={{ position: "absolute", left: 0, top: 0, width: 986, height: 516, background: "#fff" }}
    />
  );
}
